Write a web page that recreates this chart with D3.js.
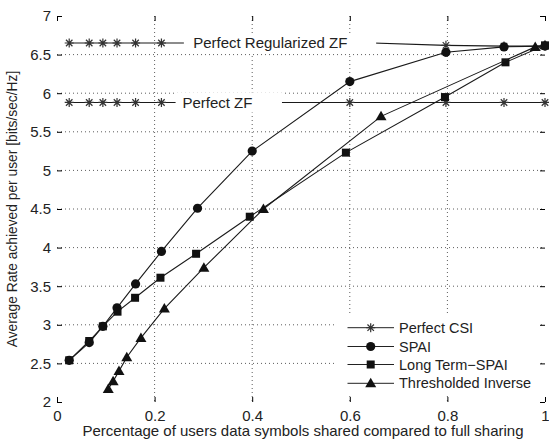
<!DOCTYPE html>
<html>
<head>
<meta charset="utf-8">
<script src="https://cdn.jsdelivr.net/npm/d3@7"></script>
<style>
  body { margin: 0; background: #fff; }
  svg { display: block; font-family: "Liberation Sans", Arial, sans-serif; }
</style>
</head>
<body>
<svg id="chart" width="549" height="443"></svg>
<script>
// ---- data ----
const sharingX = [0.025, 0.066, 0.094, 0.123, 0.161, 0.214, 0.288, 0.400, 0.600, 0.797, 0.916, 1.0];
const perfectRegZF = [6.65, 6.65, 6.65, 6.65, 6.65, 6.65, 6.65, 6.65, 6.66, 6.62, 6.61, 6.61];
const perfectZF = [5.88, 5.88, 5.88, 5.88, 5.88, 5.88, 5.88, 5.88, 5.88, 5.88, 5.88, 5.88];
const spai = [2.54, 2.77, 2.98, 3.22, 3.53, 3.95, 4.51, 5.25, 6.15, 6.53, 6.60, 6.61];
const ltX = [0.025, 0.066, 0.094, 0.124, 0.160, 0.212, 0.285, 0.395, 0.592, 0.795, 0.919, 1.0];
const ltSpai = [2.54, 2.79, 2.98, 3.17, 3.35, 3.61, 3.92, 4.40, 5.23, 5.95, 6.40, 6.62];
const thX = [0.105, 0.115, 0.127, 0.143, 0.172, 0.220, 0.301, 0.423, 0.664, 0.980, 1.0];
const thInv = [2.17, 2.27, 2.40, 2.58, 2.83, 3.21, 3.74, 4.50, 5.70, 6.60, 6.62];
const xTicks = [0, 0.2, 0.4, 0.6, 0.8, 1];
const yTicks = [2, 2.5, 3, 3.5, 4, 4.5, 5, 5.5, 6, 6.5, 7];
const legendNames = ["Perfect CSI", "SPAI", "Long Term\u2212SPAI", "Thresholded Inverse"];
const legendMarkers = ["star", "circle", "square", "triangle"];

// ---- layout ----
const svg = d3.select("#chart");
const L = 57, R = 545, T = 16, B = 402;
const x = d3.scaleLinear().domain([0, 1]).range([L, R]);
const y = d3.scaleLinear().domain([2, 7]).range([B, T]);

const g = svg.append("g");

// grid
const gridX = xTicks.filter(d => d > 0 && d < 1);
const gridY = yTicks.filter(d => d > 2 && d < 7);
g.selectAll(".gx").data(gridX).enter().append("line")
  .attr("x1", d => x(d)).attr("x2", d => x(d)).attr("y1", T).attr("y2", B)
  .attr("stroke", "#333").attr("stroke-width", 0.8).attr("stroke-dasharray", "1,3");
g.selectAll(".gy").data(gridY).enter().append("line")
  .attr("y1", d => y(d)).attr("y2", d => y(d)).attr("x1", L).attr("x2", R)
  .attr("stroke", "#333").attr("stroke-width", 0.8).attr("stroke-dasharray", "1,3");

// axes (ticks inward)
const tickLen = 5;
const axB = d3.axisBottom(x).tickValues(xTicks).tickFormat(d3.format("")).tickSizeInner(-tickLen).tickSizeOuter(0).tickPadding(8);
const axT = d3.axisTop(x).tickValues(xTicks).tickFormat("").tickSizeInner(-tickLen).tickSizeOuter(0);
const axLft = d3.axisLeft(y).tickValues(yTicks).tickFormat(d3.format("")).tickSizeInner(-tickLen).tickSizeOuter(0).tickPadding(6);
const axRt = d3.axisRight(y).tickValues(yTicks).tickFormat("").tickSizeInner(-tickLen).tickSizeOuter(0);

function styleAxis(sel) {
  sel.select(".domain").remove();
  sel.selectAll("line").attr("stroke", "#000").attr("stroke-width", 1);
  sel.selectAll("text").attr("fill", "#222").style("font-size", "15px").style("font-family", '"Liberation Sans", Arial, sans-serif');
}
svg.append("g").attr("transform", `translate(0,${B})`).call(axB).call(styleAxis);
svg.append("g").attr("transform", `translate(0,${T})`).call(axT).call(styleAxis);
svg.append("g").attr("transform", `translate(${L},0)`).call(axLft).call(styleAxis);
svg.append("g").attr("transform", `translate(${R},0)`).call(axRt).call(styleAxis);

// marker drawing
const starPath = (s) => {
  const a = s / 2, b = a * 0.72;
  return `M${-a},0L${a},0M0,${-a}L0,${a}M${-b},${-b}L${b},${b}M${-b},${b}L${b},${-b}`;
};
function drawMarker(sel, type) {
  if (type === "star") {
    sel.append("path").attr("d", starPath(9)).attr("stroke", "#333").attr("stroke-width", 1.2).attr("fill", "none");
  } else if (type === "circle") {
    sel.append("circle").attr("r", 4.6).attr("fill", "#111");
  } else if (type === "square") {
    sel.append("rect").attr("x", -4).attr("y", -4).attr("width", 8).attr("height", 8).attr("fill", "#111");
  } else if (type === "triangle") {
    sel.append("path").attr("d", "M0,-5.5L5.5,4L-5.5,4Z").attr("fill", "#111");
  }
}

const line = d3.line().x(d => x(d[0])).y(d => y(d[1]));
function series(xs, ys, type) {
  const pts = xs.map((v, i) => [v, ys[i]]);
  g.append("path").datum(pts).attr("d", line).attr("fill", "none").attr("stroke", "#1a1a1a").attr("stroke-width", 1.1);
  g.selectAll(null).data(pts).enter().append("g")
    .attr("transform", d => `translate(${x(d[0])},${y(d[1])})`)
    .each(function () { drawMarker(d3.select(this), type); });
}
series(sharingX, perfectRegZF, "star");
series(sharingX, perfectZF, "star");
series(sharingX, spai, "circle");
series(ltX, ltSpai, "square");
series(thX, thInv, "triangle");

// annotations with white background
function annot(txt, xv, yv, x0, x1) {
  g.append("rect").attr("x", x(x0)).attr("y", y(yv) - 10).attr("width", x(x1) - x(x0)).attr("height", 20).attr("fill", "#fff");
  g.append("text").attr("x", x(xv)).attr("y", y(yv)).attr("dy", "0.35em")
    .style("font-size", "15px").attr("fill", "#222").text(txt);
}
annot("Perfect Regularized ZF", 0.279, 6.65, 0.260, 0.654);
annot("Perfect ZF", 0.257, 5.88, 0.243, 0.461);

// legend
const lg = svg.append("g");
lg.append("rect").attr("x", 335).attr("y", 316).attr("width", 205).attr("height", 80).attr("fill", "#fff");
const ly = [327.7, 346.5, 364.5, 383.3];
legendNames.forEach((name, i) => {
  const row = lg.append("g").attr("transform", `translate(0,${ly[i]})`);
  row.append("line").attr("x1", 347.5).attr("x2", 394).attr("y1", 0).attr("y2", 0).attr("stroke", "#222").attr("stroke-width", 1);
  const m = row.append("g").attr("transform", "translate(370.7,0)");
  drawMarker(m, legendMarkers[i]);
  row.append("text").attr("x", 399).attr("y", 0).attr("dy", "0.35em").style("font-size", "14.5px").attr("fill", "#222").text(name);
});

// axis labels
svg.append("text").attr("x", 303).attr("y", 436).attr("text-anchor", "middle")
  .style("font-size", "15px").attr("fill", "#222")
  .text("Percentage of users data symbols shared compared to full sharing");
svg.append("text").attr("transform", `translate(17,${(T + B) / 2}) rotate(-90)`).attr("text-anchor", "middle")
  .style("font-size", "13.8px").attr("fill", "#222")
  .text("Average Rate achieved per user [bits/sec/Hz]");
</script>
</body>
</html>
